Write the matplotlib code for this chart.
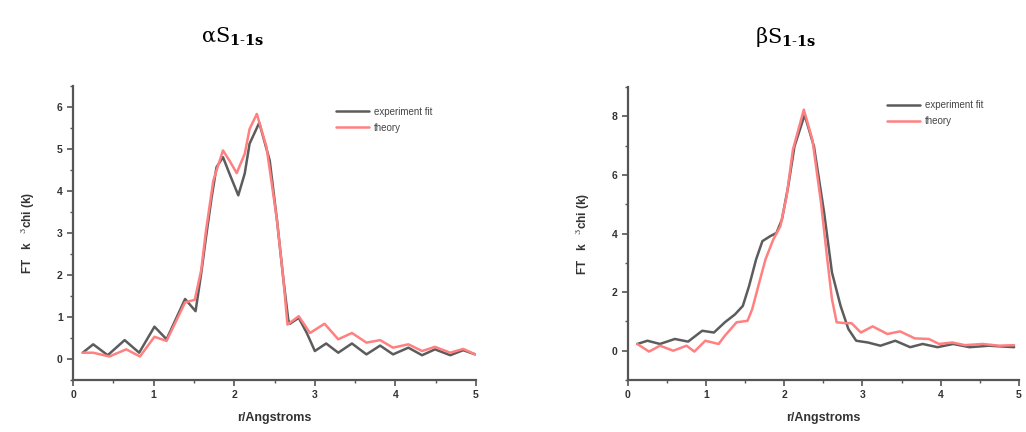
import matplotlib.pyplot as plt
from matplotlib.ticker import MultipleLocator

plt.rcParams['font.family'] = ['Liberation Sans', 'DejaVu Sans']
plt.rcParams['mathtext.fontset'] = 'dejavuserif'

# alpha S1-1s panel
alpha_exp_r = [0.12, 0.25, 0.43, 0.64, 0.82, 1.01, 1.16, 1.39, 1.52, 1.59, 1.65, 1.72, 1.78,
               1.86, 1.94, 2.05, 2.13, 2.19, 2.31, 2.44, 2.53, 2.61, 2.67, 2.69, 2.80, 2.90,
               3.00, 3.14, 3.29, 3.46, 3.64, 3.81, 3.97, 4.16, 4.33, 4.49, 4.68, 4.84, 4.99]
alpha_exp_ft = [0.15, 0.35, 0.09, 0.45, 0.15, 0.77, 0.47, 1.43, 1.14, 2.04, 2.91, 3.86, 4.57,
                4.81, 4.42, 3.90, 4.42, 5.13, 5.63, 4.73, 3.31, 1.89, 0.94, 0.84, 0.98, 0.62,
                0.19, 0.37, 0.15, 0.37, 0.11, 0.32, 0.11, 0.27, 0.09, 0.23, 0.09, 0.21, 0.11]
alpha_th_r = [0.12, 0.25, 0.45, 0.66, 0.83, 1.01, 1.16, 1.39, 1.51, 1.59, 1.65, 1.74, 1.86,
              1.94, 2.03, 2.13, 2.19, 2.28, 2.40, 2.53, 2.61, 2.66, 2.80, 2.94, 3.12, 3.29,
              3.46, 3.64, 3.81, 3.97, 4.16, 4.33, 4.49, 4.68, 4.84, 4.99]
alpha_th_ft = [0.15, 0.15, 0.06, 0.23, 0.06, 0.53, 0.43, 1.35, 1.41, 2.12, 3.07, 4.25, 4.97,
               4.73, 4.43, 4.89, 5.48, 5.84, 5.05, 3.31, 1.89, 0.82, 1.02, 0.62, 0.84, 0.47,
               0.62, 0.39, 0.45, 0.27, 0.35, 0.19, 0.29, 0.15, 0.24, 0.11]

# beta S1-1s panel
beta_exp_r = [0.12, 0.25, 0.41, 0.60, 0.77, 0.95, 1.10, 1.24, 1.37, 1.47, 1.55, 1.64, 1.72,
              1.82, 1.90, 1.97, 2.05, 2.13, 2.26, 2.38, 2.51, 2.61, 2.72, 2.82, 2.92, 3.07,
              3.23, 3.42, 3.61, 3.77, 3.96, 4.16, 4.37, 4.62, 4.94]
beta_exp_ft = [0.23, 0.34, 0.23, 0.40, 0.31, 0.68, 0.62, 0.97, 1.24, 1.53, 2.21, 3.12, 3.74,
               3.91, 4.02, 4.48, 5.61, 6.97, 8.05, 6.97, 4.71, 2.67, 1.53, 0.74, 0.34, 0.28,
               0.17, 0.34, 0.12, 0.23, 0.12, 0.23, 0.12, 0.17, 0.12]
beta_th_r = [0.12, 0.27, 0.41, 0.58, 0.75, 0.85, 0.99, 1.16, 1.24, 1.39, 1.53, 1.59, 1.68,
             1.76, 1.86, 1.95, 2.03, 2.11, 2.25, 2.36, 2.47, 2.55, 2.61, 2.67, 2.78, 2.86,
             2.98, 3.13, 3.32, 3.48, 3.67, 3.85, 3.98, 4.15, 4.31, 4.54, 4.75, 4.94]
beta_th_ft = [0.23, -0.03, 0.17, 0.00, 0.17, -0.03, 0.34, 0.23, 0.51, 0.97, 1.02, 1.42, 2.33,
              3.12, 3.80, 4.25, 5.27, 6.86, 8.23, 7.20, 5.05, 3.12, 1.76, 0.97, 0.94, 0.94,
              0.62, 0.83, 0.57, 0.66, 0.42, 0.40, 0.23, 0.28, 0.19, 0.23, 0.17, 0.19]

GRAY = '#5c5c5c'
RED = '#ff8080'
SPINE = '#555555'


def style_axis(ax, ylim, ymajor, yminor):
    ax.set_xlim(0, 5)
    ax.set_ylim(*ylim)
    ax.xaxis.set_major_locator(MultipleLocator(1))
    ax.xaxis.set_minor_locator(MultipleLocator(0.5))
    ax.yaxis.set_major_locator(MultipleLocator(ymajor))
    ax.yaxis.set_minor_locator(MultipleLocator(yminor))
    for side in ['top', 'right']:
        ax.spines[side].set_visible(False)
    for side in ['left', 'bottom']:
        ax.spines[side].set_linewidth(1.6)
        ax.spines[side].set_color(SPINE)
    ax.tick_params(which='major', direction='out', length=4, width=1.2,
                   color=SPINE, labelsize=7.5, labelcolor='#333333')
    ax.tick_params(which='minor', direction='out', length=2.5, width=1.0, color=SPINE)
    for lbl in ax.get_xticklabels() + ax.get_yticklabels():
        lbl.set_fontweight('bold')
    ax.set_xlabel('r/Angstroms', fontsize=9, fontweight='bold', color='#333333', labelpad=8)
    ax.set_ylabel(r'FT   k   $^{3}$chi (k)', fontsize=8.5, fontweight='bold',
                  color='#333333', labelpad=14)


fig = plt.figure(figsize=(10.26, 4.32), dpi=100)
ax1 = fig.add_axes([0.0712, 0.1204, 0.3928, 0.68])
ax2 = fig.add_axes([0.612, 0.1204, 0.381, 0.678])

for ax, xs, ys, xt, yt in [(ax1, alpha_exp_r, alpha_exp_ft, alpha_th_r, alpha_th_ft),
                           (ax2, beta_exp_r, beta_exp_ft, beta_th_r, beta_th_ft)]:
    ax.plot(xs, ys, color=GRAY, lw=1.8, label='experiment fit',
            solid_joinstyle='round', solid_capstyle='round')
    ax.plot(xt, yt, color=RED, lw=1.8, label='theory',
            solid_joinstyle='round', solid_capstyle='round')

style_axis(ax1, (-0.5, 6.5), 1, 0.5)
style_axis(ax2, (-1, 9), 2, 1)

for ax, anchor in [(ax1, (0.63, 0.96)), (ax2, (0.64, 0.985))]:
    leg = ax.legend(loc='upper left', bbox_to_anchor=anchor, frameon=False, fontsize=7,
                    handlelength=3.4, handletextpad=0.5, labelspacing=0.6)
    for txt in leg.get_texts():
        txt.set_color('#444444')

fig.text(0.227, 0.914, r'αS$_{\mathbf{1\text{-}1s}}$', ha='center', va='center',
         fontsize=15, family='DejaVu Serif')
fig.text(0.766, 0.914, r'βS$_{\mathbf{1\text{-}1s}}$', ha='center', va='center',
         fontsize=15, family='DejaVu Serif')

fig.savefig('out.png', dpi=100)
